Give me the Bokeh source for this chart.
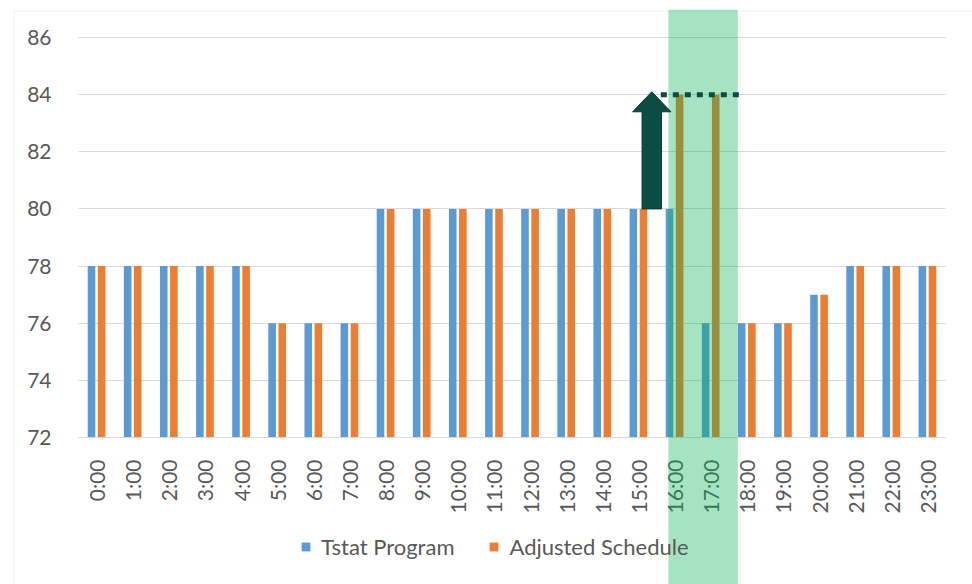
import math
from bokeh.plotting import figure
from bokeh.models import (Range1d, BoxAnnotation, Legend, LegendItem, FixedTicker,
                          SingleIntervalTicker, ColumnDataSource)
from bokeh.transform import dodge
from bokeh.embed import file_html
from bokeh.resources import INLINE

hours = [f"{h}:00" for h in range(24)]
tstat_program = [78, 78, 78, 78, 78, 76, 76, 76, 80, 80, 80, 80, 80, 80, 80, 80,
                 80, 76, 76, 76, 77, 78, 78, 78]
adjusted_schedule = [78, 78, 78, 78, 78, 76, 76, 76, 80, 80, 80, 80, 80, 80, 80, 80,
                     84, 84, 76, 76, 77, 78, 78, 78]
y_min, y_max = 72, 86
peak_hours = ["16:00", "17:00"]
raised_from, raised_to = 80, 84

BLUE = "#5B9BD5"
ORANGE = "#ED7D31"
TEXT = "#595959"
GRID = "#D9D9D9"
DARK = "#0B4D43"
FONT = "Lato"

# ---- layout geometry (pixels) ----
FL, FR, FT, FB = 12, 972, 9, 584          # frame edges on the canvas
PL, PR, PT, PB = 78, 945, 37, 437         # plotting area (categories / 72..86)
n = len(hours)
step = (PR - PL) / n
ppu = (PB - PT) / (y_max - y_min)


def px_x(px):
    return (px - PL) / step - 0.5


def px_y(py):
    return y_min + (PB - py) / ppu


idx = list(range(n))
src = ColumnDataSource(dict(x=idx, tstat=tstat_program, adj=adjusted_schedule,
                            base=[y_min] * n))

p = figure(frame_width=FR - FL, frame_height=FB - FT,
           x_range=Range1d(px_x(FL), px_x(FR)), y_range=Range1d(px_y(FB), px_y(FT)),
           output_backend="svg", toolbar_location=None,
           min_border_left=FL, min_border_right=0, min_border_top=FT,
           min_border_bottom=0)
p.outline_line_color = None
p.background_fill_color = "white"
p.border_fill_color = "white"

r1 = p.vbar(x=dodge("x", -0.14), top="tstat", bottom="base", width=0.21, source=src,
            fill_color=BLUE, line_color=None)
r2 = p.vbar(x=dodge("x", 0.14), top="adj", bottom="base", width=0.21, source=src,
            fill_color=ORANGE, line_color=None)

# axes
p.yaxis.fixed_location = -0.5
p.yaxis.bounds = (y_min, y_max)
p.yaxis.ticker = SingleIntervalTicker(interval=2)
p.yaxis.axis_line_color = None
p.yaxis.major_tick_line_color = None
p.yaxis.minor_tick_line_color = None
p.yaxis.major_label_standoff = 21
p.yaxis.major_label_text_font = FONT
p.yaxis.major_label_text_font_size = "21px"
p.yaxis.major_label_text_color = TEXT

p.xaxis.fixed_location = y_min
p.xaxis.bounds = (-0.5, n - 0.5)
p.xaxis.ticker = FixedTicker(ticks=idx)
p.xaxis.major_label_overrides = {i: h for i, h in enumerate(hours)}
p.xaxis.axis_line_color = GRID
p.xaxis.major_tick_line_color = None
p.xaxis.minor_tick_line_color = None
p.xaxis.major_label_orientation = math.pi / 2
p.xaxis.major_label_standoff = 16
p.xaxis.major_label_text_font = FONT
p.xaxis.major_label_text_font_size = "21px"
p.xaxis.major_label_text_color = TEXT
p.xgrid.grid_line_color = None
p.ygrid.grid_line_color = GRID
p.ygrid.bounds = (y_min, y_max)
p.ygrid.cross_bounds = (-0.5, n - 0.5)

# chart box border (left and top edges)
box = BoxAnnotation(left=px_x(FL + 1.5), top=px_y(FT + 1.5),
                    right=px_x(FR + 20), bottom=px_y(FB + 20),
                    fill_color=None, line_color="#D0D0D0", line_width=1)
p.add_layout(box)

legend = Legend(items=[LegendItem(label="Tstat Program", renderers=[r1]),
                       LegendItem(label="Adjusted Schedule", renderers=[r2])],
                orientation="horizontal", location=(305 - FL - 5, 24),
                label_text_font=FONT, label_text_font_size="22px",
                label_text_color=TEXT, glyph_width=11, glyph_height=11,
                label_standoff=10, spacing=34, border_line_color=None,
                background_fill_alpha=0, margin=0, padding=5)
p.add_layout(legend, "center")

# highlighted peak period band
i0 = hours.index(peak_hours[0])
i1 = hours.index(peak_hours[-1])
band = BoxAnnotation(left=i0 - 0.17, right=i1 + 0.75,
                     fill_color="#00B050", fill_alpha=0.35, line_color=None)
p.add_layout(band)

# arrow showing the set-point raise
ax = i0 - 0.63
sw, hw, hl = 0.27, 0.53, 0.7
tip = raised_to + 0.1
xs = [ax - sw, ax + sw, ax + sw, ax + hw, ax, ax - hw, ax - sw]
ys = [raised_from, raised_from, tip - hl, tip - hl, tip, tip - hl, tip - hl]
p.patch(xs, ys, fill_color=DARK, line_color="#083B33", line_width=1, level="overlay")

# dotted target line
p.segment(x0=[i0 - 0.38], y0=[raised_to], x1=[i1 + 0.84], y1=[raised_to],
          line_color=DARK, line_width=5, line_dash="6 6", level="overlay")

open("out.html", "w").write(file_html(p, INLINE))
